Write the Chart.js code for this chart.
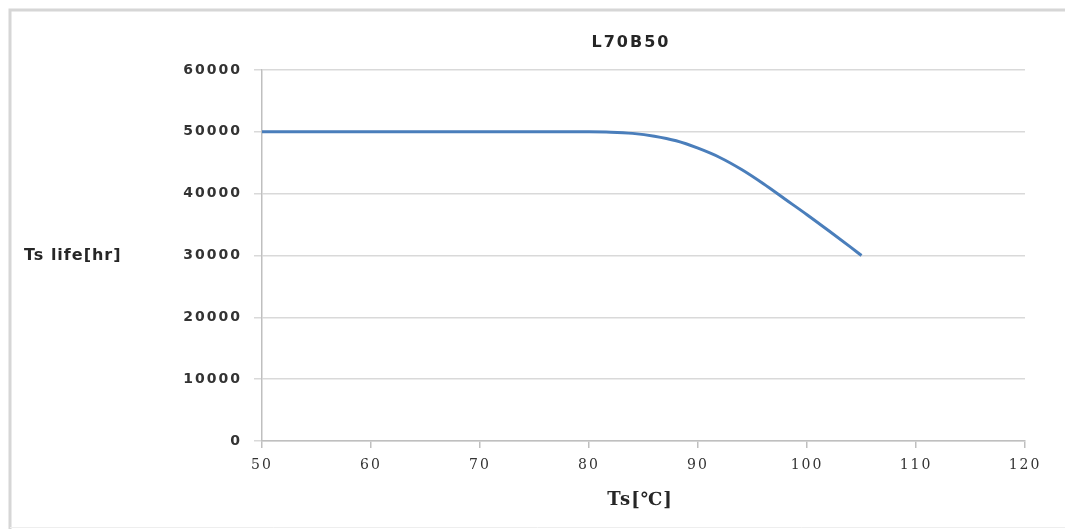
<!DOCTYPE html>
<html>
<head>
<meta charset="utf-8">
<script src="https://cdn.jsdelivr.net/npm/chart.js@4"></script>
<style>
html,body{margin:0;padding:0;background:#fff;overflow:hidden;}
#wrap{position:relative;width:1065px;height:529px;}
</style>
</head>
<body>
<div id="wrap"><canvas id="c" width="1065" height="529"></canvas></div>
<script>
const chartTitle = 'L70B50';
const yTitle = 'Ts life[hr]';
const xTitle = 'Ts[℃]';
const temps = [50, 60, 70, 80, 82, 84, 86, 88, 90, 92, 94, 96, 98, 100, 102, 104, 105];
const lifeHours = [50000, 50000, 50000, 50000, 49950, 49750, 49300, 48550, 47350, 45850, 43900, 41600, 39100, 36600, 34000, 31350, 30000];
const xTicks = {min: 50, max: 120, step: 10};
const yTicks = {min: 0, max: 60000, step: 10000};

const points = temps.map((t, i) => ({x: t, y: lifeHours[i]}));

const decor = {
  id: 'decor',
  beforeLayout(chart){ chart.ctx.letterSpacing = '2px'; },
  beforeDraw(chart){
    const ctx = chart.ctx;
    ctx.save();
    ctx.fillStyle = '#fff';
    ctx.fillRect(0,0,chart.width,chart.height);
    ctx.strokeStyle = '#d6d6d6';
    ctx.lineWidth = 3;
    ctx.beginPath();
    ctx.moveTo(10, 529);
    ctx.lineTo(10, 10);
    ctx.lineTo(1065, 10);
    ctx.stroke();
    ctx.strokeStyle = '#eeeeee';
    ctx.lineWidth = 1;
    ctx.beginPath();
    ctx.moveTo(10, 527.5);
    ctx.lineTo(1065, 527.5);
    ctx.stroke();
    ctx.restore();
    ctx.letterSpacing = '2px';
  },
  afterDraw(chart){
    const ctx = chart.ctx;
    ctx.save();
    ctx.fillStyle = '#262626';
    ctx.textBaseline = 'middle';
    ctx.textAlign = 'center';
    ctx.letterSpacing = '2px';
    ctx.font = 'bold 16px "DejaVu Sans"';
    ctx.fillText(chartTitle, 631, 43);
    ctx.letterSpacing = '1px';
    ctx.textAlign = 'left';
    ctx.font = 'bold 16px "DejaVu Sans"';
    ctx.fillText(yTitle, 24, 256);
    ctx.textAlign = 'center';
    ctx.font = 'bold 18px "DejaVu Serif"';
    ctx.fillText(xTitle, 640, 500);
    ctx.restore();
  }
};

new Chart(document.getElementById('c'), {
  type: 'scatter',
  data: {
    datasets: [{
      data: points,
      showLine: true,
      borderColor: '#4a7ebb',
      backgroundColor: '#4a7ebb',
      borderWidth: 3,
      pointRadius: 0,
      cubicInterpolationMode: 'monotone'
    }]
  },
  plugins: [decor],
  options: {
    responsive: false,
    animation: false,
    devicePixelRatio: 1,
    layout: {padding: {left: 0, right: 40, top: 70, bottom: 0}},
    plugins: {legend: {display: false}, tooltip: {enabled: false}, title: {display: false}},
    scales: {
      x: {
        type: 'linear',
        min: xTicks.min, max: xTicks.max,
        afterFit(s){ s.height = 88; },
        ticks: {stepSize: xTicks.step, color: '#333333', padding: 9, font: {family: 'DejaVu Serif', size: 14}, callback: v => String(v)},
        grid: {display: true, drawOnChartArea: false, drawTicks: true, tickLength: 7, color: '#bfbfbf', lineWidth: 1.5},
        border: {color: '#bfbfbf', width: 1.5}
      },
      y: {
        min: yTicks.min, max: yTicks.max,
        afterFit(s){ s.width = 262; },
        ticks: {stepSize: yTicks.step, color: '#333333', padding: 12, font: {family: 'DejaVu Sans', size: 14, weight: 'bold'}, callback: v => String(v)},
        grid: {color: '#d9d9d9', lineWidth: 1.5, tickLength: 8},
        border: {color: '#bfbfbf', width: 1.5}
      }
    }
  }
});
</script>
</body>
</html>
